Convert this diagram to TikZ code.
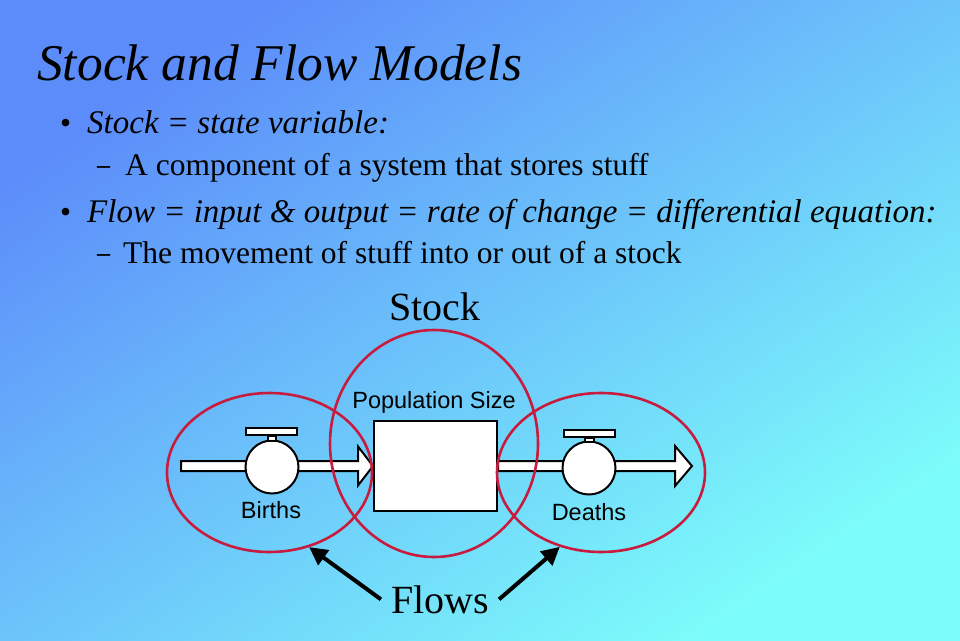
\documentclass[tikz,border=0pt]{standalone}
\usepackage{fontspec}
\setmainfont{Liberation Serif}
\setsansfont{Liberation Sans}
\usetikzlibrary{calc,arrows.meta,shapes.geometric}

\definecolor{bgtop}{RGB}{92,140,250}
\definecolor{bgbot}{RGB}{124,252,250}
\definecolor{ringred}{RGB}{200,28,62}

\tikzset{
  heading/.style={anchor=base west, inner sep=0, font=\fontsize{51.5}{60}\selectfont\itshape},
  point/.style={anchor=base west, inner sep=0, font=\fontsize{33}{40}\selectfont\itshape},
  subpoint/.style={anchor=base west, inner sep=0, font=\fontsize{31.5}{38}\selectfont},
  bulletmark/.style={anchor=base west, inner sep=0, font=\fontsize{31.5}{38}\selectfont},
  dashmark/.style={anchor=base west, inner sep=0, font=\fontsize{26}{30}\selectfont\bfseries},
  bigword/.style={anchor=base, inner sep=0, font=\fontsize{40}{48}\selectfont},
  flowname/.style={anchor=base, inner sep=0, font=\sffamily\fontsize{23.5}{28}\selectfont},
  pipe/.style={draw=black, fill=white, line width=2pt, line join=miter},
  valve/.style={draw=black, fill=white, line width=2pt},
  ring/.style={draw=ringred, line width=2.6pt, ellipse, inner sep=0},
  flowptr/.style={line width=4pt, -{Triangle[length=18pt,width=18pt]}}
}

\begin{document}
\begin{tikzpicture}[x=1pt, y=-1pt]
\useasboundingbox (0,0) rectangle (960,640);
\shade[top color=bgtop, bottom color=bgbot, shading angle=34] (0,0) rectangle (960,640);

% slide text
\node[heading] (title) at (37,80) {Stock and Flow Models};
\node[bulletmark] (b1) at (60,133) {\textbullet};
\node[point] (p1) at (87,133) {Stock = state variable:};
\node[dashmark] (d1) at (97,173) {–};
\node[subpoint] (s1) at (125,175) {A component of a system that stores stuff};
\node[bulletmark] (b2) at (60,222) {\textbullet};
\node[point] (p2) at (87,222) {Flow = input \& output = rate of change = differential equation:};
\node[dashmark] (d2) at (97,261) {–};
\node[subpoint] (s2) at (123,263) {The movement of stuff into or out of a stock};

% stock and flows
\node[draw=black, fill=white, line width=2pt, minimum width=123, minimum height=90, inner sep=0] (stock) at (435.5,466) {};
\coordinate (src) at (181,466);
\coordinate (sink) at (692,466);

\draw[pipe] ($(src)+(0,-5)$) -- ($(stock.west)+(-15,-5)$) -- ($(stock.west)+(-15,-19.5)$) -- (stock.west)
  -- ($(stock.west)+(-15,19.5)$) -- ($(stock.west)+(-15,5)$) -- ($(src)+(0,5)$) -- cycle;
\draw[pipe] ($(stock.east)+(0,-5)$) -- ($(sink)+(-17,-5)$) -- ($(sink)+(-17,-20)$) -- (sink)
  -- ($(sink)+(-17,20)$) -- ($(sink)+(-17,5)$) -- ($(stock.east)+(0,5)$) -- cycle;
\node[draw=black, fill=white, line width=2pt, minimum width=123, minimum height=90, inner sep=0] at (stock) {};

\node[valve, circle, minimum size=53, inner sep=0] (birthvalve) at (272,467) {};
\node[valve, minimum width=51, minimum height=7, inner sep=0] (birthbar) at (271,431) {};
\draw[valve] ($(birthvalve.north)+(-4.5,1)$) rectangle ($(birthbar.south)+(4.5,0)$);

\node[valve, circle, minimum size=53, inner sep=0] (deathvalve) at (589,468) {};
\node[valve, minimum width=51, minimum height=7, inner sep=0] (deathbar) at (589,433) {};
\draw[valve] ($(deathvalve.north)+(-4.5,1)$) rectangle ($(deathbar.south)+(4.5,0)$);

\node[flowname] (popname) at (434,408) {Population Size};
\node[flowname] (births) at (271,518) {Births};
\node[flowname] (deaths) at (589,520) {Deaths};

% rings
\node[ring, minimum width=208, minimum height=227] (stockring) at (434,443.5) {};
\node[ring, minimum width=205, minimum height=159] (inring) at (269.5,472.5) {};
\node[ring, minimum width=208, minimum height=159] (outring) at (601,472.5) {};

\node[bigword] (stockword) at (435,320) {Stock};
\node[bigword] (flows) at (440,613) {Flows};
\draw[flowptr] ([xshift=-10pt]flows.west) -- (inring.-62);
\draw[flowptr] ([xshift=10pt]flows.east) -- (outring.-119);
\end{tikzpicture}
\end{document}
